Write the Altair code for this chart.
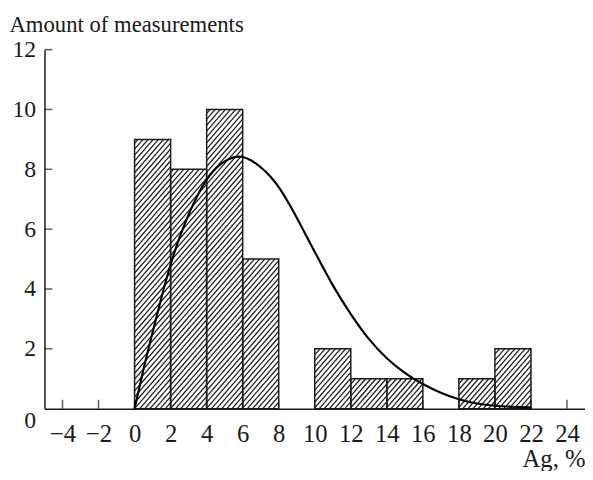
import altair as alt
import pandas as pd
import numpy as np

# Histogram bins (Ag, %) and counts
bin_start = [0, 2, 4, 6, 8, 10, 12, 14, 16, 18, 20]
bin_end = [2, 4, 6, 8, 10, 12, 14, 16, 18, 20, 22]
counts = [9, 8, 10, 5, 0, 2, 1, 1, 0, 1, 2]

# Fitted curve
curve_x = [0, 0.5, 1, 1.5, 2, 2.5, 3, 3.5, 4, 4.5, 5, 5.5, 6, 6.5, 7, 7.5, 8,
           8.5, 9, 10, 11, 12, 13, 14, 15, 16, 17, 18, 19, 20, 21, 22]
curve_y = [0, 1.35, 2.55, 3.75, 4.85, 5.75, 6.5, 7.15, 7.68, 8.05, 8.28, 8.42,
           8.44, 8.3, 8.08, 7.8, 7.42, 6.93, 6.39, 5.24, 4.1, 3.14, 2.3, 1.66,
           1.18, 0.81, 0.52, 0.3, 0.16, 0.09, 0.06, 0.04]

x_ticks = [-4, -2, 0, 2, 4, 6, 8, 10, 12, 14, 16, 18, 20, 22, 24]
y_ticks = [2, 4, 6, 8, 10, 12]

X_DOMAIN = [-5, 25]
Y_DOMAIN = [0, 12]
W, H = 548, 364
FONT = "Liberation Serif"
INK = "#1a1a1a"

bars = pd.DataFrame({"x0": bin_start, "x1": bin_end, "n": counts})
bars = bars[bars.n > 0]
curve = pd.DataFrame({"x": curve_x, "y": curve_y})

# Hatching (///) clipped to each bar, built in data space
sx = W / (X_DOMAIN[1] - X_DOMAIN[0])
sy = H / (Y_DOMAIN[1] - Y_DOMAIN[0])
step = 5.2  # px horizontal spacing
slope = 1.15  # pixel rise per pixel run
segs = []
for _, r in bars.iterrows():
    x0, x1, h = r.x0, r.x1, r.n
    kmin = int(np.floor((x0 * sx - h * sy / slope) / step)) - 1
    kmax = int(np.ceil(x1 * sx / step)) + 1
    for k in range(kmin, kmax + 1):
        c = k * step
        ylo = max(0.0, (x0 * sx - c) * slope / sy)
        yhi = min(float(h), (x1 * sx - c) * slope / sy)
        if yhi - ylo > 1e-6:
            segs.append({"xa": (c + ylo * sy / slope) / sx, "ya": ylo,
                         "xb": (c + yhi * sy / slope) / sx, "yb": yhi})
hatch = pd.DataFrame(segs)

xs = alt.Scale(domain=X_DOMAIN, nice=False, zero=False)
ys = alt.Scale(domain=Y_DOMAIN, nice=False)

x_axis = alt.Axis(values=x_ticks, ticks=False, tickSize=0, grid=False,
                  labelFont=FONT, labelFontSize=25, labelColor=INK,
                  labelPadding=13, domainColor=INK, domainWidth=1.5,
                  title="Ag, %", titleFont=FONT, titleFontSize=25,
                  titleFontWeight="normal", titleColor=INK,
                  titleAnchor="end", titleAlign="right", titleBaseline="alphabetic",
                  titleX=W, titleY=59, labelFlush=False, labelOverlap=False)
y_axis = alt.Axis(values=[0] + y_ticks, ticks=False, tickSize=0, grid=False,
                  labelFont=FONT, labelFontSize=24, labelColor=INK,
                  labelPadding=9, domainColor=INK, domainWidth=1.5,
                  labelBaseline=alt.expr("datum.value == 0 ? 'top' : 'middle'"),
                  title="Amount of measurements", titleFont=FONT,
                  titleFontSize=23, titleFontWeight="normal", titleColor=INK,
                  titleAngle=0, titleAlign="left", titleBaseline="alphabetic",
                  titleX=-36, titleY=-18, labelFlush=False, labelOverlap=False)

hatch_layer = alt.Chart(hatch).mark_rule(color=INK, strokeWidth=1.25).encode(
    x=alt.X("xa:Q", scale=xs, axis=x_axis),
    y=alt.Y("ya:Q", scale=ys, axis=y_axis),
    x2="xb:Q", y2="yb:Q")

bar_layer = alt.Chart(bars).mark_rect(fill=None, stroke=INK, strokeWidth=1.5).encode(
    x=alt.X("x0:Q", scale=xs, axis=x_axis), x2="x1:Q",
    y=alt.Y("n:Q", scale=ys, axis=y_axis), y2=alt.datum(0))

curve_layer = alt.Chart(curve).mark_line(color="black", strokeWidth=2.2,
                                         interpolate="basis").encode(
    x=alt.X("x:Q", scale=xs, axis=x_axis), y=alt.Y("y:Q", scale=ys, axis=y_axis))

xt = alt.Chart(pd.DataFrame({"t": x_ticks})).mark_tick(
    orient="vertical", size=9, thickness=1.5, color=INK, yOffset=-4.5).encode(
    x=alt.X("t:Q", scale=xs, axis=x_axis), y=alt.datum(0, scale=ys, axis=y_axis))

yt = alt.Chart(pd.DataFrame({"t": y_ticks})).mark_tick(
    orient="horizontal", size=8, thickness=1.5, color=INK, xOffset=4).encode(
    y=alt.Y("t:Q", scale=ys, axis=y_axis), x=alt.datum(-5, scale=xs, axis=x_axis))

chart = alt.layer(hatch_layer, xt, yt, bar_layer, curve_layer).properties(
    width=W, height=H,
    background="white",
    autosize=alt.AutoSizeParams(type="none"),
    padding={"left": 37, "top": 39, "right": 0, "bottom": 60},
).configure_view(strokeWidth=0, stroke="transparent")

chart.save("out.html", embed_options={"renderer": "svg", "actions": False})
